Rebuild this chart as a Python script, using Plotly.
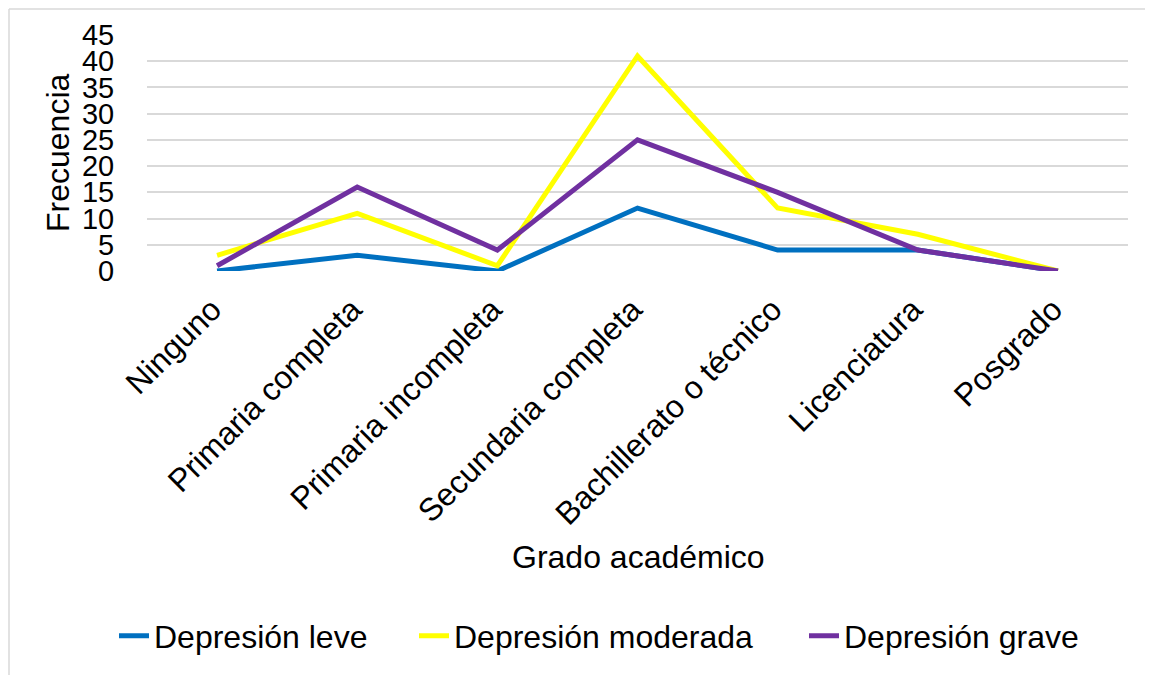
import plotly.graph_objects as go

categories = ["Ninguno", "Primaria completa", "Primaria incompleta", "Secundaria completa",
              "Bachillerato o técnico", "Licenciatura", "Posgrado"]
leve = [0, 3, 0, 12, 4, 4, 0]
moderada = [3, 11, 1, 41, 12, 7, 0]
grave = [1, 16, 4, 25, 15, 4, 0]
series_names = ["Depresión leve", "Depresión moderada", "Depresión grave"]
series_colors = ["#0070C0", "#FFFF00", "#7030A0"]
y_ticks = [0, 5, 10, 15, 20, 25, 30, 35, 40, 45]

FONT = "Liberation Sans, Arial, sans-serif"
FS = 32

# page body has an 8px default margin; work in screen pixels and convert
OFF = 8
W, H = 1153 - OFF, 675 - OFF
L, R, T, B = 147 - OFF, 25, 35 - OFF, 404
pw, ph = W - L - R, H - T - B

def px_x(x):
    return (x - OFF - L) / pw

def px_y(y):
    return (H - B - (y - OFF)) / ph

legend_names = ["legend", "legend2", "legend3"]
legend_text_x = [155, 455, 845]

fig = go.Figure()
for name, vals, col, lg in zip(series_names, [leve, moderada, grave], series_colors, legend_names):
    fig.add_trace(go.Scatter(x=categories, y=vals, name=name, mode="lines", legend=lg,
                             line=dict(color=col, width=5), cliponaxis=False))

legend_common = dict(orientation="h", yanchor="middle", y=px_y(636), xanchor="left",
                     font=dict(size=FS), bgcolor="rgba(0,0,0,0)", itemwidth=30)

fig.update_layout(
    width=W, height=H,
    margin=dict(l=L, r=R, t=T, b=B, autoexpand=False),
    paper_bgcolor="white", plot_bgcolor="white",
    font=dict(family=FONT, size=FS, color="black"),
    showlegend=True,
    legend=dict(legend_common, x=px_x(legend_text_x[0] - 41)),
    legend2=dict(legend_common, x=px_x(legend_text_x[1] - 41)),
    legend3=dict(legend_common, x=px_x(legend_text_x[2] - 41)),
    xaxis=dict(type="category", range=[-0.5, 6.5], tickangle=-45, showgrid=False,
               zeroline=False, showline=False, ticks="outside", ticklen=6,
               tickcolor="rgba(0,0,0,0)", automargin=False, ticklabelshift=-5,
               tickfont=dict(size=FS)),
    yaxis=dict(range=[0, 45], tickvals=y_ticks, showgrid=True, gridcolor="#D9D9D9",
               gridwidth=1.5, zeroline=False, showline=False, ticks="outside", ticklen=26,
               tickcolor="rgba(0,0,0,0)", automargin=False, tickfont=dict(size=29)),
    annotations=[
        dict(text="Frecuencia", xref="paper", yref="paper", x=px_x(58), y=px_y(153),
             textangle=-90, showarrow=False, font=dict(size=FS), xanchor="center", yanchor="middle"),
        dict(text="Grado académico", xref="paper", yref="paper", x=px_x(638), y=px_y(557),
             showarrow=False, font=dict(size=FS), xanchor="center", yanchor="middle"),
    ],
    shapes=[
        dict(type="line", xref="paper", yref="paper", x0=px_x(9), x1=px_x(1147.5),
             y0=px_y(9), y1=px_y(9), line=dict(color="#D9D9D9", width=1.5), layer="below"),
        dict(type="line", xref="paper", yref="paper", x0=px_x(9), x1=px_x(9),
             y0=px_y(9), y1=px_y(680), line=dict(color="#D9D9D9", width=1.5), layer="below"),
        dict(type="line", xref="paper", yref="paper", x0=px_x(1147.5), x1=px_x(1147.5),
             y0=px_y(9), y1=px_y(680), line=dict(color="#D9D9D9", width=1.5), layer="below"),
    ],
)

fig.write_html("out.html")
